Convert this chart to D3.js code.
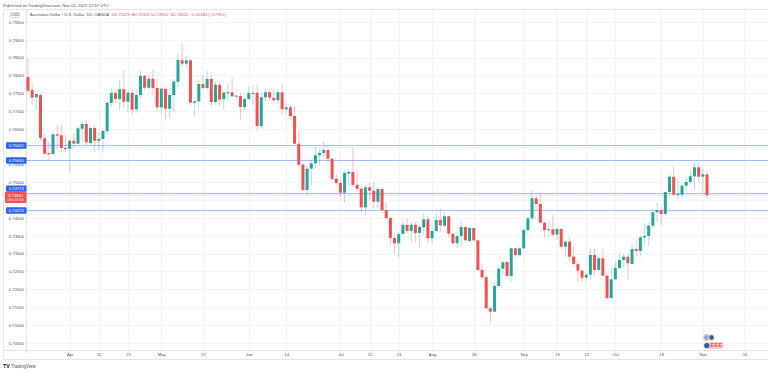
<!DOCTYPE html>
<html>
<head>
<meta charset="utf-8">
<script src="https://cdn.jsdelivr.net/npm/d3@7"></script>
<style>
  html, body { margin: 0; padding: 0; background: #fff; }
  text { font-family: "Liberation Sans", Arial, sans-serif; }
</style>
</head>
<body>
<script>
// AUD/USD daily candles
var opens = [
  .77956,.77592,.77387,.77451,.76236,.75824,.75796,.76348,.76320,.75964,.75944,.76169,.76085,.76506,.76638,.76104,.76525,.76169,.76217,.76433,
  .77227,.77507,.77339,.77611,.77263,.77516,.77050,.77451,.77984,.77656,.77909,.77648,.77106,.77620,.77067,.77451,.77824,.78425,.78330,.78425,
  .77235,.77274,.77760,.77648,.77900,.77255,.77740,.77331,.77513,.77527,.77414,.77423,.77115,.77339,.77507,.77516,.76581,.77387,.77527,.77376,
  .77303,.77527,.77050,.77106,.76862,.76085,.75496,.74786,.75383,.75535,.75759,.75824,.75908,.75664,.75103,.74982,.74710,.75243,.75291,.74926,
  .74822,.74300,.74861,.74766,.74457,.74814,.74224,.73999,.73439,.73290,.73551,.73804,.73635,.73812,.73579,.73739,.73963,.73430,.73635,.73944,
  .73784,.74048,.73559,.73290,.73495,.73747,.73354,.73719,.73374,.72541,.72336,.71466,.71371,.72092,.72577,.72765,.72372,.73150,.72962,.73150,
  .73663,.73991,.74552,.74393,.73868,.73655,.73683,.73531,.73691,.73194,.73335,.72914,.72709,.72521,.72325,.72409,.72962,.72541,.72869,.72381,
  .71755,.72280,.72597,.72821,.72914,.72709,.73130,.73074,.73458,.73495,.73784,.74160,.74224,.74112,.74730,.75159,.74654,.74654,.74906,.75010,
  .75170,.75422,.75159,.75225
];
var closes = [
  .77572,.77376,.77479,.76245,.75804,.75787,.76348,.76309,.75964,.75944,.76169,.76085,.76517,.76638,.76124,.76525,.76169,.76217,.76441,.77235,
  .77507,.77339,.77611,.77263,.77516,.77039,.77451,.77984,.77656,.77909,.77648,.77106,.77628,.77067,.77451,.77830,.78433,.78330,.78425,.77235,
  .77274,.77760,.77648,.77900,.77255,.77740,.77319,.77516,.77527,.77414,.77434,.77115,.77339,.77507,.77490,.76581,.77387,.77527,.77376,.77303,
  .77527,.77050,.77106,.76862,.76085,.75496,.74786,.75383,.75535,.75759,.75824,.75908,.75664,.75094,.74982,.74710,.75263,.75291,.74926,.74814,
  .74300,.74861,.74766,.74457,.74814,.74224,.73999,.73439,.73290,.73551,.73804,.73635,.73812,.73579,.73747,.73963,.73430,.73635,.73944,.73795,
  .74048,.73559,.73290,.73495,.73747,.73374,.73719,.73374,.72541,.72336,.71466,.71371,.72092,.72577,.72757,.72372,.73150,.72962,.73150,.73663,
  .73991,.74552,.74393,.73868,.73663,.73683,.73531,.73691,.73194,.73335,.72914,.72709,.72521,.72325,.72409,.72962,.72541,.72869,.72381,.71755,
  .72280,.72597,.72821,.72914,.72729,.73130,.73074,.73458,.73495,.73784,.74160,.74224,.74112,.74730,.75159,.74654,.74673,.74906,.75010,.75170,
  .75422,.75159,.75226,.74641
];
var highs = [
  .78481,.77788,.77479,.77479,.76357,.76141,.76441,.76609,.76629,.76329,.76189,.76377,.76581,.76694,.76750,.76562,.76609,.76422,.76469,.77263,
  .77639,.77572,.77872,.78153,.77592,.77592,.77592,.78133,.78012,.78012,.78172,.77920,.77667,.77667,.77499,.77900,.78621,.78902,.78546,.78453,
  .77311,.77872,.78012,.78125,.78012,.77824,.77824,.77544,.77752,.77948,.77451,.77499,.77404,.77684,.77732,.77732,.77507,.77620,.77620,.77620,
  .77620,.77752,.77218,.77171,.77143,.76449,.75552,.75459,.75627,.76000,.75956,.76160,.76048,.75684,.75254,.75066,.75327,.75347,.75984,.75327,
  .74926,.74926,.74990,.75018,.74861,.74861,.74429,.74036,.73570,.73616,.73944,.73991,.73896,.73896,.73804,.74132,.74056,.73832,.74132,.74252,
  .74160,.74065,.73570,.73616,.73896,.73756,.73756,.73733,.73410,.72701,.72400,.71531,.72167,.72633,.72774,.72774,.73167,.73178,.73178,.73719,
  .74036,.74786,.74626,.74693,.73896,.73896,.74084,.73756,.73711,.73382,.73458,.73214,.72821,.72541,.72465,.73150,.73150,.72914,.73122,.72400,
  .72616,.72774,.73026,.72989,.72981,.73290,.73382,.73523,.73851,.73868,.74224,.74421,.74317,.74730,.75206,.75459,.75114,.74974,.75159,.75347,
  .75552,.75552,.75366,.75319
];
var lows = [
  .77507,.77171,.77030,.76169,.75768,.75608,.75768,.75908,.75832,.75860,.75299,.75964,.76068,.76141,.76048,.76029,.75860,.75908,.75832,.76329,
  .77106,.77218,.77030,.77078,.76983,.76890,.76954,.77359,.77592,.77611,.77451,.76983,.76938,.76730,.76806,.76983,.77611,.78245,.78201,.77171,
  .76870,.77123,.77611,.77592,.77123,.77171,.77143,.77050,.77311,.77387,.77311,.76770,.77002,.77311,.77143,.76450,.76506,.77291,.77291,.77199,
  .77199,.76870,.76918,.76730,.76076,.75422,.74758,.74625,.74926,.75383,.75487,.75720,.75535,.75066,.74926,.74581,.74440,.74898,.74878,.74738,
  .74160,.74084,.74505,.74252,.74300,.74204,.73944,.73242,.72989,.72897,.73523,.73570,.73307,.73307,.73178,.73523,.73290,.73290,.73616,.73616,
  .73756,.73475,.73262,.73167,.73223,.73318,.73318,.73335,.72513,.72288,.71446,.71062,.71354,.72027,.72400,.72336,.72212,.72914,.72914,.73122,
  .73551,.73944,.74252,.73851,.73447,.73467,.73475,.73382,.73122,.72914,.72774,.72633,.72212,.72212,.72212,.72260,.72353,.72493,.72353,.71699,
  .71736,.72260,.72560,.72588,.72260,.72701,.72914,.72914,.73290,.73214,.73711,.73896,.73784,.74092,.74645,.74617,.74524,.74552,.74738,.74926,
  .74786,.74990,.74710,.74552
];

// time axis: bar index of each labelled day
var tickIndex  = [10, 17, 24, 32, 42, 53, 62, 75, 82, 89, 97, 107, 119, 127, 134, 141, 152, 162, 172];
var tickLabels = ["Apr","12","21","May","17","Jun","14","Jul","12","21","Aug","16","Sep","13","22","Oct","18","Nov","15"];

var priceTicks = [.795,.79,.785,.78,.775,.77,.765,.76,.755,.75,.745,.74,.735,.73,.725,.72,.715,.71,.705];
// .76 and .745 sit behind the level tags, so they only get a grid line
var priceLabels = [.795,.79,.785,.78,.775,.77,.765,.755,.75,.74,.735,.73,.725,.72,.715,.71,.705];
var hLines = [.76062, .75630, .74713, .74223];
var lastPrice = .74641;

var w = 768, h = 372;
var green = "#26a69a", red = "#ef5350", blue = "#2962ff";
var left = 26, right = 768, top_ = 9.5, axisY = 350.5, frameBottom = 359.5;
var fontSize = 4.2, grey = "#50535e";

var svg = d3.select("body").append("svg")
    .attr("width", w).attr("height", h)
    .style("display", "block");

var x = d3.scaleLinear().domain([0, opens.length - 1]).range([28, 707]);
var y = d3.scaleLinear().domain([.795, .705]).range([22, 342.7]);

// header
svg.append("text").attr("x", 3).attr("y", 6.5)
    .attr("font-size", fontSize).attr("fill", grey)
    .text("Published on TradingView.com, Nov 02, 2021 12:57 UTC");

// grid
svg.append("g").selectAll("line").data(tickIndex).enter().append("line")
    .attr("x1", function(d) { return Math.round(x(d)) + .5; })
    .attr("x2", function(d) { return Math.round(x(d)) + .5; })
    .attr("y1", top_).attr("y2", axisY)
    .attr("stroke", "#f3f4f6");
svg.append("g").selectAll("line").data(priceTicks).enter().append("line")
    .attr("x1", left).attr("x2", right)
    .attr("y1", function(d) { return Math.round(y(d)) + .5; })
    .attr("y2", function(d) { return Math.round(y(d)) + .5; })
    .attr("stroke", "#f3f4f6");

// frame
var frame = svg.append("g").attr("stroke", "#e4e5e9").attr("fill", "none");
frame.append("path").attr("d", "M3.5," + frameBottom + "V" + top_ + "H" + right);
frame.append("path").attr("d", "M" + left + ".5," + top_ + "V" + axisY);
frame.append("path").attr("d", "M3.5," + axisY + "H" + right);
frame.append("path").attr("d", "M3.5," + frameBottom + "H" + right);
svg.append("line").attr("x1", left + .5).attr("x2", left + .5).attr("y1", axisY).attr("y2", axisY + 2.5).attr("stroke", "#d0d2d8");

// axes
var yAxis = d3.axisLeft(y).tickValues(priceLabels).tickSize(0).tickPadding(0)
    .tickFormat(d3.format(".5f"));
var gy = svg.append("g").attr("transform", "translate(24,0)").call(yAxis);
gy.select(".domain").remove();
gy.selectAll("text").attr("font-size", fontSize).attr("fill", grey)
    .style("font-family", "'Liberation Sans', Arial, sans-serif");

var xAxis = d3.axisBottom(x).tickValues(tickIndex).tickSize(0).tickPadding(2.3)
    .tickFormat(function(d, i) { return tickLabels[i]; });
var gx = svg.append("g").attr("transform", "translate(0," + axisY + ")").call(xAxis);
gx.select(".domain").remove();
gx.selectAll("text").attr("font-size", fontSize).attr("fill", grey)
    .style("font-family", "'Liberation Sans', Arial, sans-serif");

// last price line + horizontal levels
svg.append("line").attr("x1", left).attr("x2", right)
    .attr("y1", y(lastPrice)).attr("y2", y(lastPrice))
    .attr("stroke", red).attr("stroke-opacity", .2);
svg.append("g").selectAll("line").data(hLines).enter().append("line")
    .attr("x1", left).attr("x2", right)
    .attr("y1", function(d) { return Math.round(y(d)) + .5; })
    .attr("y2", function(d) { return Math.round(y(d)) + .5; })
    .attr("stroke", "#a6bdff");

// candles
var bars = d3.range(opens.length);
svg.append("g").selectAll("line").data(bars).enter().append("line")
    .attr("x1", function(i) { return x(i); })
    .attr("x2", function(i) { return x(i); })
    .attr("y1", function(i) { return y(highs[i]); })
    .attr("y2", function(i) { return y(lows[i]); })
    .attr("stroke", function(i) { return closes[i] >= opens[i] ? green : red; })
    .attr("stroke-opacity", .36);
svg.append("g").selectAll("rect").data(bars).enter().append("rect")
    .attr("x", function(i) { return x(i) - 1.5; })
    .attr("width", 3)
    .attr("y", function(i) { return y(Math.max(opens[i], closes[i])); })
    .attr("height", function(i) { return Math.max(1, Math.abs(y(opens[i]) - y(closes[i]))); })
    .attr("fill", function(i) { return closes[i] >= opens[i] ? green : red; });

// level tags on the price axis, pushed up when they would hit the last price tag
var lastTop = y(lastPrice) - 3.3;
function tagY(d) {
  var yy = Math.round(y(d)) + .5;
  return (yy + 3.2 > lastTop && yy < lastTop + 11.2) ? lastTop - 3.2 : yy;
}
var tags = svg.append("g").selectAll("g").data(hLines).enter().append("g")
    .attr("transform", function(d) { return "translate(0," + tagY(d) + ")"; });
tags.append("rect").attr("x", 6).attr("y", -3.2).attr("width", 20.5).attr("height", 6.4)
    .attr("rx", 1).attr("fill", blue);
tags.append("text").attr("x", 16.2).attr("y", 1.5).attr("text-anchor", "middle")
    .attr("font-size", fontSize).attr("fill", "#fff")
    .text(d3.format(".5f"));

// last price tag
svg.append("rect").attr("x", 5).attr("y", lastTop).attr("width", 21.5).attr("height", 11.2)
    .attr("rx", 1).attr("fill", red);
svg.append("text").attr("x", 15.7).attr("y", y(lastPrice) + 1.8).attr("text-anchor", "middle")
    .attr("font-size", fontSize).attr("fill", "#fff").text(d3.format(".5f")(lastPrice));
svg.append("text").attr("x", 15.7).attr("y", y(lastPrice) + 6.2).attr("text-anchor", "middle")
    .attr("font-size", fontSize).attr("fill", "#fff").attr("fill-opacity", .85).text("08:03:56");

// legend line
svg.append("rect").attr("x", 10.5).attr("y", 12.5).attr("width", 9).attr("height", 5).attr("rx", 1)
    .attr("fill", "#fff").attr("stroke", "#d6d8de");
svg.append("text").attr("x", 15).attr("y", 16.4).attr("text-anchor", "middle")
    .attr("font-size", 3.8).attr("fill", grey).text("USD");
var legend = svg.append("text").attr("x", 30).attr("y", 16).attr("font-size", fontSize).attr("fill", grey);
legend.append("tspan").text("Australian Dollar / U.S. Dollar, 1D, OANDA ");
var legendParts = [
  ["O", "0.75225"], ["H", "0.75319"], ["L", "0.74552"], ["C", "0.74641"]
];
legendParts.forEach(function(p) {
  legend.append("tspan").attr("dx", 1.5).text(p[0]);
  legend.append("tspan").attr("fill", red).text(p[1]);
});
legend.append("tspan").attr("dx", 1.5).attr("fill", red).text("\u22120.00584 (\u22120.78%)");

// event markers near the last bar
var m = svg.append("g");
m.append("circle").attr("cx", 706.5).attr("cy", 337.5).attr("r", 3.4).attr("fill", "#ffc98a");
m.append("circle").attr("cx", 706.5).attr("cy", 337.5).attr("r", 2.2).attr("fill", "#7aa7ee");
m.append("circle").attr("cx", 711.5).attr("cy", 337.5).attr("r", 3.2).attr("fill", "#ffc98a");
m.append("circle").attr("cx", 711.5).attr("cy", 337.5).attr("r", 2.2).attr("fill", "#2a5db0");
m.append("rect").attr("x", 703.5).attr("y", 342).attr("width", 20.5).attr("height", 7).attr("rx", 3.5).attr("fill", "#ffc9c9");
m.append("circle").attr("cx", 706.8).attr("cy", 345.5).attr("r", 2.6).attr("fill", "#2a5db0");
m.append("text").attr("x", 716.5).attr("y", 347.4).attr("text-anchor", "middle")
    .attr("font-size", 5.2).attr("font-weight", "bold").attr("fill", "#e2504f").attr("letter-spacing", .5).text("EEE");

// logo
svg.append("text").attr("x", 3).attr("y", 367.6).attr("font-size", 5.4).attr("font-weight", "bold")
    .attr("fill", "#131722").text("TV");
svg.append("text").attr("x", 11).attr("y", 367.6).attr("font-size", 4.5).attr("fill", grey).text("TradingView");
</script>
</body>
</html>
